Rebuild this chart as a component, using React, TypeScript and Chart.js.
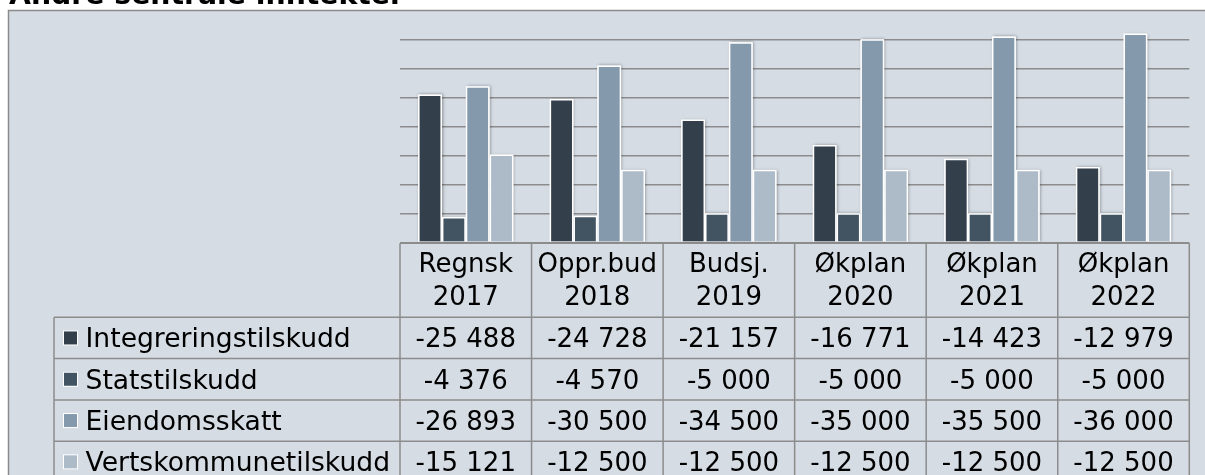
import React, { useEffect, useRef } from "react";
import { Chart, registerables } from "chart.js";

Chart.register(...registerables);

// ---- Data ----
const categoryLines: string[][] = [
  ["Regnsk", "2017"],
  ["Oppr.bud", "2018"],
  ["Budsj.", "2019"],
  ["Økplan", "2020"],
  ["Økplan", "2021"],
  ["Økplan", "2022"],
];
const categories = categoryLines.map((l) => l.join(" "));
const seriesNames = ["Integreringstilskudd", "Statstilskudd", "Eiendomsskatt", "Vertskommunetilskudd"];
const integreringstilskudd = [-25488, -24728, -21157, -16771, -14423, -12979];
const statstilskudd = [-4376, -4570, -5000, -5000, -5000, -5000];
const eiendomsskatt = [-26893, -30500, -34500, -35000, -35500, -36000];
const vertskommunetilskudd = [-15121, -12500, -12500, -12500, -12500, -12500];
const seriesValues = [integreringstilskudd, statstilskudd, eiendomsskatt, vertskommunetilskudd];
const seriesColors = ["#333f4b", "#425462", "#8599ad", "#adbbc8"];
const yGridValues = [0, -5000, -10000, -15000, -20000, -25000, -30000, -35000];
const titleText = "Andre sentrale inntekter";

const FONT = "'DejaVu Sans', Verdana, sans-serif";

function fmt(v: number): string {
  const s = Math.abs(v).toString().replace(/\B(?=(\d{3})+(?!\d))/g, " ");
  return (v < 0 ? "-" : "") + s;
}

const frameBg = {
  id: "frameBg",
  beforeDraw(chart: any) {
    const { ctx, width, height } = chart;
    ctx.save();
    ctx.fillStyle = "#d5dce4";
    ctx.fillRect(8.5, 10.5, width, height);
    ctx.strokeStyle = "#8a8a8a";
    ctx.lineWidth = 1.5;
    ctx.strokeRect(8.5, 10.5, width + 20, height + 20);
    ctx.restore();
  },
};

const barShadow = {
  id: "barShadow",
  beforeDatasetsDraw(chart: any) {
    const { ctx, chartArea } = chart;
    ctx.save();
    ctx.beginPath();
    ctx.rect(chartArea.left - 5, chartArea.top - 5, chartArea.right - chartArea.left + 10, chartArea.bottom - chartArea.top + 5);
    ctx.clip();
    ctx.shadowColor = "rgba(0,0,0,0.35)";
    ctx.shadowBlur = 3;
    ctx.shadowOffsetX = 1;
    ctx.shadowOffsetY = 0;
    ctx.fillStyle = "#ffffff";
    chart.data.datasets.forEach((_d: any, di: number) => {
      const meta = chart.getDatasetMeta(di);
      meta.data.forEach((el: any) => {
        const { x, y, base, width } = el.getProps(["x", "y", "base", "width"], true);
        const top = Math.min(y, base);
        const h = Math.abs(base - y);
        ctx.fillRect(x - width / 2, top, width, h);
      });
    });
    ctx.restore();
  },
};

const dataTable = {
  id: "dataTable",
  afterDraw(chart: any) {
    const { ctx, chartArea, scales } = chart;
    const xs = scales.x;
    const n = categories.length;
    const colW = (chartArea.right - chartArea.left) / n;
    const tableTop = chartArea.bottom + 1;
    const headerH = 74;
    const rowH = 41.3;
    const tableLeft = 54;
    const right = chartArea.right;
    const bottom = tableTop + headerH + rowH * seriesNames.length;
    const fs = 26;

    ctx.save();
    ctx.strokeStyle = "#8c8c8c";
    ctx.lineWidth = 1.5;
    ctx.beginPath();
    ctx.moveTo(chartArea.left, tableTop);
    ctx.lineTo(right, tableTop);
    for (let r = 0; r <= seriesNames.length; r++) {
      const yy = tableTop + headerH + r * rowH;
      ctx.moveTo(tableLeft, yy);
      ctx.lineTo(right, yy);
    }
    for (let i = 0; i <= n; i++) {
      const xx = i < n ? xs.getPixelForValue(i) - colW / 2 : xs.getPixelForValue(n - 1) + colW / 2;
      ctx.moveTo(xx, tableTop);
      ctx.lineTo(xx, bottom);
    }
    ctx.moveTo(tableLeft, tableTop + headerH);
    ctx.lineTo(tableLeft, bottom);
    ctx.stroke();

    ctx.fillStyle = "#000000";
    ctx.font = `${fs}px ${FONT}`;
    ctx.textBaseline = "alphabetic";
    ctx.textAlign = "center";
    categoryLines.forEach((lines, i) => {
      const cx = xs.getPixelForValue(i);
      ctx.fillText(lines[0], cx, tableTop + 29);
      ctx.fillText(lines[1], cx, tableTop + 61.7);
    });
    seriesNames.forEach((name, r) => {
      const rowTop = tableTop + headerH + r * rowH;
      const base = rowTop + rowH / 2 + 9.3;
      const cy = rowTop + rowH / 2;
      ctx.fillStyle = "#ffffff";
      ctx.fillRect(63, cy - 7.5, 15, 15);
      ctx.fillStyle = seriesColors[r];
      ctx.fillRect(64, cy - 6.5, 13, 13);
      ctx.fillStyle = "#000000";
      ctx.textAlign = "left";
      ctx.font = `26.6px ${FONT}`;
      ctx.fillText(name, 85.5, base);
      ctx.font = `${fs}px ${FONT}`;
      ctx.textAlign = "center";
      seriesValues[r].forEach((v, i) => {
        ctx.fillText(fmt(v), xs.getPixelForValue(i), base);
      });
    });
    ctx.restore();
  },
};

export default function App() {
  const ref = useRef<HTMLCanvasElement | null>(null);

  useEffect(() => {
    if (!ref.current) return;
    const chart = new Chart(ref.current, {
      type: "bar",
      data: {
        labels: categories,
        datasets: seriesNames.map((name, i) => ({
          label: name,
          data: seriesValues[i],
          backgroundColor: seriesColors[i],
          borderColor: "#ffffff",
          borderWidth: 1.5,
          categoryPercentage: 0.725,
          barPercentage: 1,
        })),
      },
      options: {
        responsive: false,
        animation: false,
        devicePixelRatio: 1,
        layout: { padding: { left: 400, right: 15.7, top: 10.3, bottom: 232.7 } },
        plugins: {
          legend: { display: false },
          tooltip: { enabled: false },
          title: { display: false },
        },
        scales: {
          x: { display: false, offset: true },
          y: {
            display: true,
            reverse: true,
            min: -40000,
            max: 0,
            border: { display: false },
            ticks: { display: false },
            grid: { color: "#8c8c8c", lineWidth: 1.5, drawTicks: false },
            afterBuildTicks: (s: any) => {
              s.ticks = yGridValues.map((v) => ({ value: v }));
            },
            afterFit: (s: any) => {
              s.width = 0;
            },
          },
        },
      },
      plugins: [frameBg, barShadow, dataTable],
    });
    return () => chart.destroy();
  }, []);

  return (
    <div>
      <canvas
        ref={ref}
        width={1205}
        height={475}
        style={{ position: "fixed", left: 0, top: 0, width: 1205, height: 475 }}
      />
      <div
        style={{
          position: "fixed",
          left: 9,
          top: -18.9,
          font: `bold 28.3px ${FONT}`,
          lineHeight: "28.3px",
          color: "#000",
          whiteSpace: "nowrap",
        }}
      >
        {titleText}
      </div>
    </div>
  );
}
